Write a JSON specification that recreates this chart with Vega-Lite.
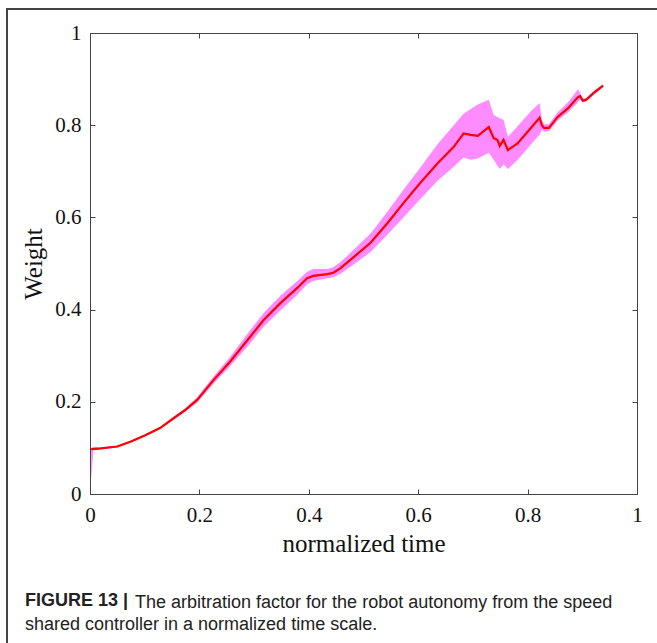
{
  "$schema": "https://vega.github.io/schema/vega-lite/v6.json",
  "width": 547,
  "height": 461,
  "autosize": {"type": "none"},
  "padding": {"left": 90, "top": 33, "right": 20, "bottom": 149},
  "background": "white",
  "config": {
    "view": {"stroke": "#444", "strokeWidth": 1},
    "axis": {
      "grid": false,
      "domain": false,
      "tickColor": "#444",
      "tickSize": -5,
      "labelFlush": false,
      "labelFont": "'Liberation Serif', 'Times New Roman', Times, serif",
      "labelFontSize": 21,
      "labelColor": "#111",
      "titleFont": "'Liberation Serif', 'Times New Roman', Times, serif",
      "titleFontSize": 25,
      "titleFontWeight": "normal",
      "titleColor": "#111"
    }
  },
  "title": {
    "text": "FIGURE 13 |",
    "subtitle": ["\u200b\u00a0\u00a0\u00a0\u00a0\u00a0\u00a0\u00a0\u00a0\u00a0\u00a0\u00a0\u00a0\u00a0\u00a0\u00a0\u00a0\u00a0\u00a0\u00a0\u00a0\u00a0\u00a0The arbitration factor for the robot autonomy from the speed", "shared controller in a normalized time scale."],
    "orient": "bottom",
    "anchor": "start",
    "frame": "group",
    "offset": -55,
    "dx": -65,
    "font": "'Liberation Sans', Arial, sans-serif",
    "fontSize": 18,
    "fontWeight": "bold",
    "color": "#222",
    "subtitleFont": "'Liberation Sans', Arial, sans-serif",
    "subtitleFontSize": 18,
    "subtitleColor": "#222",
    "subtitleLineHeight": 22,
    "subtitlePadding": -16
  },
  "data": {"values": [
    {"t": 0.002, "w": 0.097, "lo": 0.03, "hi": 0.100},
    {"t": 0.006, "w": 0.098, "lo": 0.094, "hi": 0.101},
    {"t": 0.02, "w": 0.099, "lo": 0.097, "hi": 0.101},
    {"t": 0.05, "w": 0.103, "lo": 0.101, "hi": 0.105},
    {"t": 0.075, "w": 0.114, "lo": 0.112, "hi": 0.116},
    {"t": 0.10, "w": 0.127, "lo": 0.125, "hi": 0.129},
    {"t": 0.128, "w": 0.143, "lo": 0.141, "hi": 0.145},
    {"t": 0.156, "w": 0.167, "lo": 0.164, "hi": 0.170},
    {"t": 0.175, "w": 0.183, "lo": 0.179, "hi": 0.187},
    {"t": 0.196, "w": 0.204, "lo": 0.199, "hi": 0.210},
    {"t": 0.225, "w": 0.246, "lo": 0.238, "hi": 0.254},
    {"t": 0.256, "w": 0.287, "lo": 0.277, "hi": 0.297},
    {"t": 0.288, "w": 0.334, "lo": 0.320, "hi": 0.348},
    {"t": 0.317, "w": 0.377, "lo": 0.362, "hi": 0.392},
    {"t": 0.348, "w": 0.414, "lo": 0.398, "hi": 0.430},
    {"t": 0.379, "w": 0.447, "lo": 0.432, "hi": 0.462},
    {"t": 0.397, "w": 0.468, "lo": 0.455, "hi": 0.482},
    {"t": 0.408, "w": 0.473, "lo": 0.462, "hi": 0.488},
    {"t": 0.434, "w": 0.477, "lo": 0.468, "hi": 0.488},
    {"t": 0.445, "w": 0.480, "lo": 0.470, "hi": 0.492},
    {"t": 0.458, "w": 0.490, "lo": 0.478, "hi": 0.503},
    {"t": 0.482, "w": 0.514, "lo": 0.498, "hi": 0.530},
    {"t": 0.513, "w": 0.545, "lo": 0.525, "hi": 0.565},
    {"t": 0.544, "w": 0.588, "lo": 0.563, "hi": 0.613},
    {"t": 0.573, "w": 0.631, "lo": 0.600, "hi": 0.660},
    {"t": 0.604, "w": 0.675, "lo": 0.640, "hi": 0.708},
    {"t": 0.636, "w": 0.718, "lo": 0.680, "hi": 0.760},
    {"t": 0.665, "w": 0.753, "lo": 0.710, "hi": 0.800},
    {"t": 0.683, "w": 0.782, "lo": 0.730, "hi": 0.825},
    {"t": 0.696, "w": 0.779, "lo": 0.725, "hi": 0.835},
    {"t": 0.709, "w": 0.777, "lo": 0.728, "hi": 0.845},
    {"t": 0.729, "w": 0.796, "lo": 0.740, "hi": 0.855},
    {"t": 0.738, "w": 0.772, "lo": 0.725, "hi": 0.822},
    {"t": 0.745, "w": 0.768, "lo": 0.712, "hi": 0.818},
    {"t": 0.749, "w": 0.755, "lo": 0.705, "hi": 0.815},
    {"t": 0.756, "w": 0.768, "lo": 0.715, "hi": 0.812},
    {"t": 0.764, "w": 0.746, "lo": 0.705, "hi": 0.775},
    {"t": 0.782, "w": 0.761, "lo": 0.725, "hi": 0.798},
    {"t": 0.806, "w": 0.794, "lo": 0.758, "hi": 0.830},
    {"t": 0.822, "w": 0.816, "lo": 0.780, "hi": 0.848},
    {"t": 0.826, "w": 0.800, "lo": 0.790, "hi": 0.812},
    {"t": 0.830, "w": 0.794, "lo": 0.786, "hi": 0.802},
    {"t": 0.839, "w": 0.794, "lo": 0.787, "hi": 0.802},
    {"t": 0.855, "w": 0.818, "lo": 0.810, "hi": 0.828},
    {"t": 0.874, "w": 0.837, "lo": 0.828, "hi": 0.850},
    {"t": 0.892, "w": 0.861, "lo": 0.850, "hi": 0.878},
    {"t": 0.896, "w": 0.863, "lo": 0.856, "hi": 0.870},
    {"t": 0.901, "w": 0.853, "lo": 0.849, "hi": 0.858},
    {"t": 0.907, "w": 0.855, "lo": 0.851, "hi": 0.859},
    {"t": 0.921, "w": 0.870, "lo": 0.866, "hi": 0.874},
    {"t": 0.938, "w": 0.886, "lo": 0.883, "hi": 0.889}
  ]},
  "resolve": {"axis": {"x": "independent", "y": "independent"}},
  "layer": [
    {
      "mark": {"type": "area", "color": "#ff8cff", "opacity": 1},
      "encoding": {
        "x": {"field": "t", "type": "quantitative", "scale": {"domain": [0, 1], "nice": false},
              "axis": {"orient": "top", "labels": false, "title": null, "values": [0, 0.2, 0.4, 0.6, 0.8, 1]}},
        "y": {"field": "lo", "type": "quantitative", "scale": {"domain": [0, 1], "nice": false},
              "axis": {"orient": "right", "labels": false, "title": null, "values": [0, 0.2, 0.4, 0.6, 0.8, 1]}},
        "y2": {"field": "hi"}
      }
    },
    {
      "mark": {"type": "line", "color": "#ff0000", "strokeWidth": 2.2},
      "encoding": {
        "x": {"field": "t", "type": "quantitative",
              "axis": {"orient": "bottom", "title": "normalized time", "values": [0, 0.2, 0.4, 0.6, 0.8, 1], "format": "~g", "labelPadding": 15, "titlePadding": 6}},
        "y": {"field": "w", "type": "quantitative",
              "axis": {"orient": "left", "title": "Weight", "values": [0, 0.2, 0.4, 0.6, 0.8, 1], "format": "~g", "labelPadding": 14, "titlePadding": 8}}
      }
    },
    {
      "mark": {"type": "rect", "fill": null, "stroke": "#444", "strokeWidth": 1.2, "clip": false},
      "encoding": {
        "x": {"datum": -0.1517, "type": "quantitative", "axis": null},
        "x2": {"datum": 1.2},
        "y": {"datum": 1.052, "type": "quantitative", "axis": null},
        "y2": {"datum": -0.33}
      }
    }
  ]
}
